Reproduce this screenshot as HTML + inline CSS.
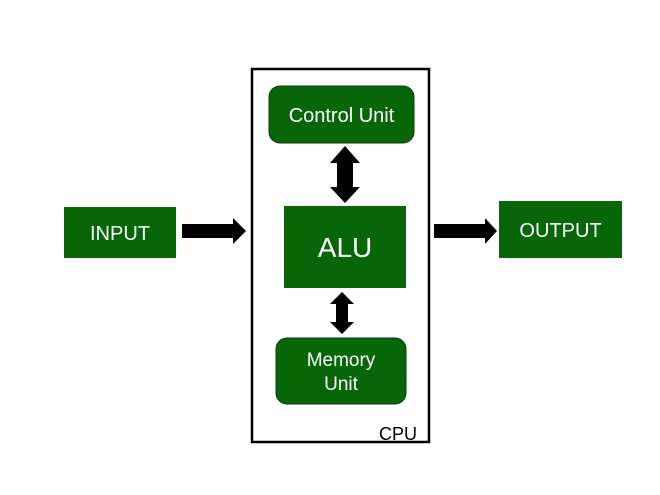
<!DOCTYPE html>
<html><head><style>body{margin:0;background:#fff}svg{display:block}</style></head><body>
<svg width="660" height="495" viewBox="0 0 660 495" font-family="Liberation Sans, sans-serif">
<rect x="252" y="69" width="177" height="373" fill="none" stroke="#000" stroke-width="2.5"/>
<rect x="269" y="86" width="145" height="57" rx="11" fill="#076607" stroke="#0a3d0a"/>
<text x="341.5" y="122" fill="#fff" font-size="20" text-anchor="middle">Control Unit</text>
<polygon points="345,146 360,163 353,163 353,187 360,187 345,203 330,187 337,187 337,163 330,163" fill="#000"/>
<rect x="284" y="206" width="122" height="82" fill="#076607"/>
<text x="345" y="257" fill="#fff" font-size="28" text-anchor="middle">ALU</text>
<polygon points="342,292 354,304 348,304 348,322 354,322 342,334 330,322 336,322 336,304 330,304" fill="#000"/>
<rect x="276" y="338" width="130" height="66" rx="11" fill="#076607" stroke="#0a3d0a"/>
<text x="341" y="366" fill="#fff" font-size="19" text-anchor="middle">Memory</text>
<text x="341" y="390" fill="#fff" font-size="19" text-anchor="middle">Unit</text>
<text x="398" y="440" fill="#000" font-size="18" text-anchor="middle">CPU</text>
<rect x="64" y="207" width="112" height="51" fill="#076607"/>
<text x="120" y="240" fill="#fff" font-size="20" text-anchor="middle">INPUT</text>
<polygon points="182,224 233,224 233,218 246,231 233,244 233,238 182,238" fill="#000"/>
<rect x="499" y="201" width="123" height="57" fill="#076607"/>
<text x="560.5" y="237" fill="#fff" font-size="20" text-anchor="middle">OUTPUT</text>
<polygon points="434,224 485,224 485,218 497,231 485,244 485,238 434,238" fill="#000"/>
</svg>
</body></html>
